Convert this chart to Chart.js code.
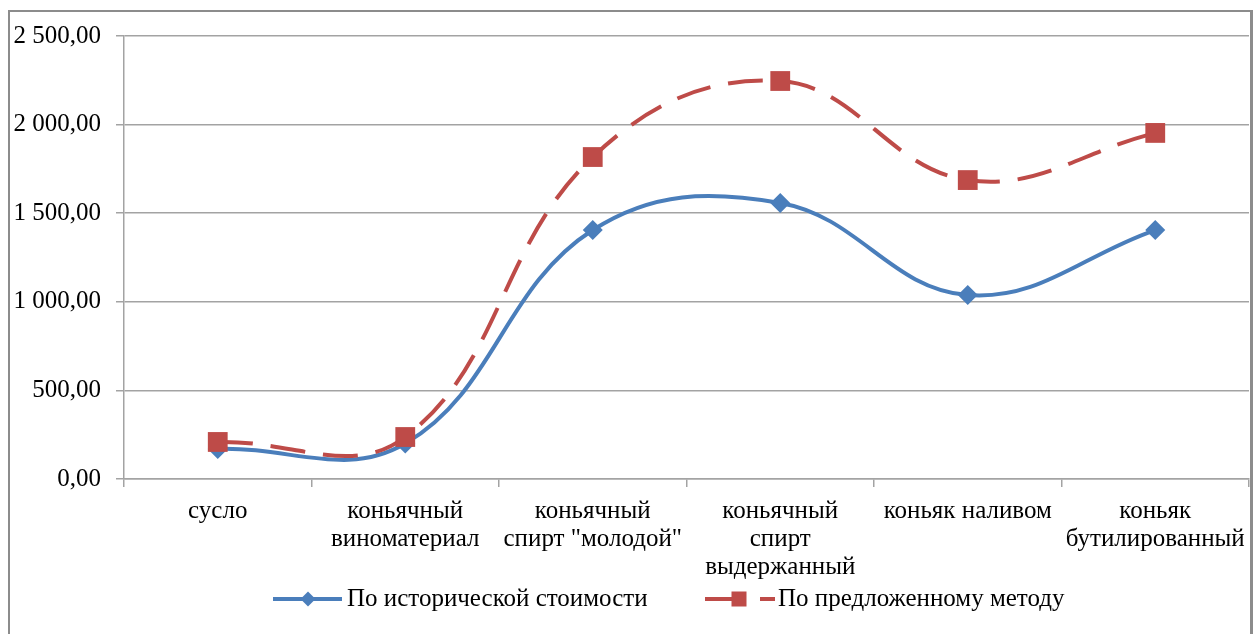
<!DOCTYPE html>
<html>
<head>
<meta charset="utf-8">
<script src="https://cdn.jsdelivr.net/npm/chart.js@4.4.0/dist/chart.umd.min.js"></script>
<style>
  html, body { margin: 0; padding: 0; background: #fff; overflow: hidden; }
  #wrap { position: absolute; left: 0; top: 0; width: 1253px; height: 634px; overflow: hidden; }
  #c { display: block; }
</style>
</head>
<body>
<div id="wrap"><canvas id="c" width="1263" height="634"></canvas></div>
<script>
// Production stages (x axis)
const categories = [
  ['сусло'],
  ['коньячный', 'виноматериал'],
  ['коньячный', 'спирт "молодой"'],
  ['коньячный', 'спирт', 'выдержанный'],
  ['коньяк наливом'],
  ['коньяк', 'бутилированный']
];
// Series values
const historicalCost = [170, 200, 1405, 1558, 1038, 1405];
const proposedMethod = [209, 237, 1817, 2246, 1687, 1953];
const seriesNames = ['По исторической стоимости', 'По предложенному методу'];
// Value axis ticks
const yTicks = [0, 500, 1000, 1500, 2000, 2500];

const FONT = '"Liberation Serif", "Times New Roman", serif';
const FONT_SIZE = 25;
const BLUE = '#4a7ebb';
const RED = '#be4b48';
const GRID = '#a3a3a3';

function fmt(v) {
  const s = Number(v).toFixed(2).split('.');
  return s[0].replace(/\B(?=(\d{3})+(?!\d))/g, ' ') + ',' + s[1];
}

// Outer frame around the chart
const framePlugin = {
  id: 'frame',
  beforeDraw(chart) {
    const ctx = chart.ctx;
    ctx.save();
    ctx.fillStyle = '#fff';
    ctx.fillRect(0, 0, chart.width, chart.height);
    ctx.strokeStyle = '#8c8c8c';
    ctx.lineWidth = 2;
    ctx.beginPath();
    ctx.moveTo(9, 634); ctx.lineTo(9, 11); ctx.lineTo(1251, 11);
    ctx.stroke();
    ctx.lineWidth = 3;
    ctx.beginPath();
    ctx.moveTo(1251.5, 10); ctx.lineTo(1251.5, 634);
    ctx.stroke();
    ctx.restore();
  }
};

// Legend with line samples and markers
const legendPlugin = {
  id: 'lineLegend',
  afterDraw(chart) {
    const ctx = chart.ctx;
    const y = 599;
    ctx.save();
    ctx.font = FONT_SIZE + 'px ' + FONT;
    ctx.textBaseline = 'middle';
    ctx.lineCap = 'butt';
    ctx.lineWidth = 4;

    // historical cost
    ctx.strokeStyle = BLUE;
    ctx.beginPath(); ctx.moveTo(273, y); ctx.lineTo(342, y); ctx.stroke();
    ctx.fillStyle = BLUE;
    ctx.beginPath();
    ctx.moveTo(308 - 7.5, y); ctx.lineTo(308, y - 7.5); ctx.lineTo(308 + 7.5, y); ctx.lineTo(308, y + 7.5);
    ctx.closePath(); ctx.fill();
    ctx.fillStyle = '#000';
    ctx.fillText(seriesNames[0], 347, y);

    // proposed method
    ctx.strokeStyle = RED;
    ctx.beginPath(); ctx.moveTo(705, y); ctx.lineTo(746, y); ctx.stroke();
    ctx.beginPath(); ctx.moveTo(760, y); ctx.lineTo(775, y); ctx.stroke();
    ctx.fillStyle = RED;
    ctx.fillRect(739 - 7.5, y - 7.5, 15, 15);
    ctx.fillStyle = '#000';
    ctx.fillText(seriesNames[1], 778, y);
    ctx.restore();
  }
};

new Chart(document.getElementById('c'), {
  type: 'line',
  data: {
    labels: categories,
    datasets: [
      {
        label: seriesNames[0],
        data: historicalCost,
        borderColor: BLUE,
        backgroundColor: BLUE,
        borderWidth: 4,
        tension: 0.4,
        pointStyle: 'rectRot',
        pointRadius: 10,
        pointBorderWidth: 0,
        pointBackgroundColor: BLUE,
        order: 1
      },
      {
        label: seriesNames[1],
        data: proposedMethod,
        borderColor: RED,
        backgroundColor: RED,
        borderWidth: 4,
        borderDash: [35, 18],
        tension: 0.4,
        pointStyle: 'rect',
        pointRadius: 14,
        pointBorderWidth: 0,
        pointBackgroundColor: RED,
        order: 0
      }
    ]
  },
  options: {
    responsive: false,
    devicePixelRatio: 1,
    animation: false,
    layout: { padding: { left: 0, right: 4, top: 36, bottom: 0 } },
    plugins: {
      legend: { display: false },
      tooltip: { enabled: false }
    },
    scales: {
      x: {
        type: 'category',
        offset: true,
        grid: {
          offset: true,
          drawOnChartArea: false,
          drawTicks: true,
          tickLength: 8,
          color: GRID,
          lineWidth: 1.5
        },
        border: { color: GRID, width: 1.5 },
        ticks: {
          color: '#000',
          font: { family: FONT, size: FONT_SIZE, lineHeight: 1.12 },
          padding: 10,
          maxRotation: 0,
          autoSkip: false
        },
        afterFit(scale) { scale.height = 155; }
      },
      y: {
        min: 0,
        max: 2500,
        afterBuildTicks(scale) { scale.ticks = yTicks.map(v => ({ value: v })); },
        grid: {
          color: GRID,
          lineWidth: 1.5,
          tickLength: 8,
          drawTicks: true
        },
        border: { color: GRID, width: 1.5 },
        ticks: {
          color: '#000',
          font: { family: FONT, size: FONT_SIZE },
          padding: 15,
          callback: v => fmt(v)
        },
        afterFit(scale) { scale.width = 124; }
      }
    }
  },
  plugins: [framePlugin, legendPlugin]
});
</script>
</body>
</html>
